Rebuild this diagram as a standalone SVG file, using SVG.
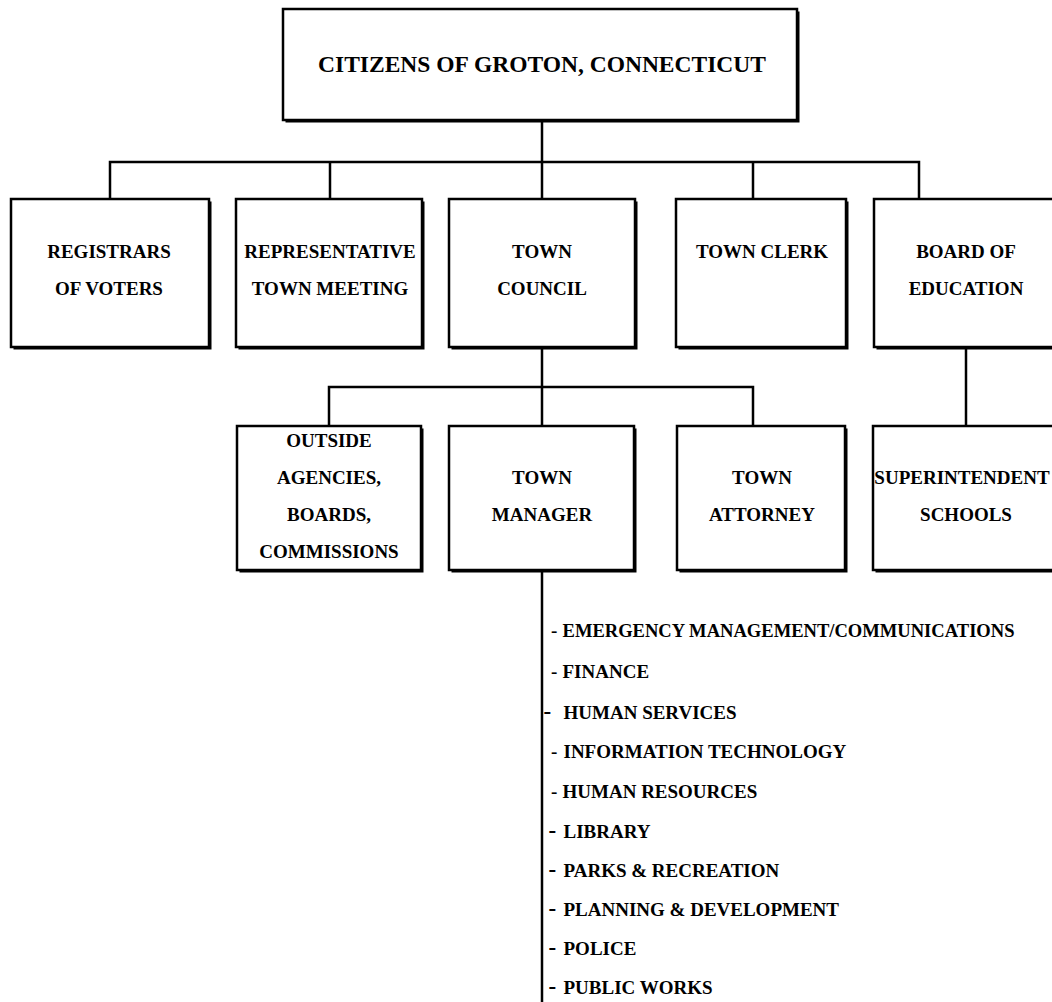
<svg xmlns="http://www.w3.org/2000/svg" width="1052" height="1002" viewBox="0 0 1052 1002">
<style>
.sh{fill:#000}
.box{fill:#fff;stroke:#000;stroke-width:2.5}
.ln{fill:none;stroke:#000;stroke-width:2.5}
text{font-family:"Liberation Serif","Times New Roman",serif;font-weight:bold;font-size:19px;fill:#000}
.c{text-anchor:middle}
.top{font-size:23.5px}
.d{font-size:23px}
</style>
<rect width="1052" height="1002" fill="#fff"/>
<g id="connectors">
<path class="ln" d="M542 120V162M110 199V162H919V199M330 162V199M542 162V199M753 162V199"/>
<path class="ln" d="M542 347V387M329 426V387H753V426M542 387V426"/>
<path class="ln" d="M966 347V426"/>
<path class="ln" d="M542 570V1002"/>
</g>
<g id="citizens">
<rect class="sh" x="285.5" y="11.5" width="514" height="111"/>
<rect class="box" x="283" y="9" width="514" height="111"/>
<text class="c top" x="542" y="72">CITIZENS OF GROTON, CONNECTICUT</text>
</g>
<g id="registrars">
<rect class="sh" x="13.5" y="201.5" width="198" height="148"/>
<rect class="box" x="11" y="199" width="198" height="148"/>
<text class="c" x="109" y="258">REGISTRARS</text>
<text class="c" x="109" y="295">OF VOTERS</text>
</g>
<g id="rtm">
<rect class="sh" x="238.5" y="201.5" width="186" height="148"/>
<rect class="box" x="236" y="199" width="186" height="148"/>
<text class="c" x="330" y="258">REPRESENTATIVE</text>
<text class="c" x="330" y="295">TOWN MEETING</text>
</g>
<g id="council">
<rect class="sh" x="451.5" y="201.5" width="186" height="148"/>
<rect class="box" x="449" y="199" width="186" height="148"/>
<text class="c" x="542" y="258">TOWN</text>
<text class="c" x="542" y="295">COUNCIL</text>
</g>
<g id="clerk">
<rect class="sh" x="678.5" y="201.5" width="170" height="148"/>
<rect class="box" x="676" y="199" width="170" height="148"/>
<text class="c" x="762" y="258">TOWN CLERK</text>
</g>
<g id="board">
<rect class="sh" x="876.5" y="201.5" width="186" height="148"/>
<rect class="box" x="874" y="199" width="186" height="148"/>
<text class="c" x="966" y="258">BOARD OF</text>
<text class="c" x="966" y="295">EDUCATION</text>
</g>
<g id="outside">
<rect class="sh" x="239.5" y="428.5" width="184" height="144"/>
<rect class="box" x="237" y="426" width="184" height="144"/>
<text class="c" x="329" y="447">OUTSIDE</text>
<text class="c" x="329" y="484">AGENCIES,</text>
<text class="c" x="329" y="521">BOARDS,</text>
<text class="c" x="329" y="558">COMMISSIONS</text>
</g>
<g id="manager">
<rect class="sh" x="451.5" y="428.5" width="185" height="144"/>
<rect class="box" x="449" y="426" width="185" height="144"/>
<text class="c" x="542" y="484">TOWN</text>
<text class="c" x="542" y="521">MANAGER</text>
</g>
<g id="attorney">
<rect class="sh" x="679.5" y="428.5" width="168" height="144"/>
<rect class="box" x="677" y="426" width="168" height="144"/>
<text class="c" x="762" y="484">TOWN</text>
<text class="c" x="762" y="521">ATTORNEY</text>
</g>
<g id="superintendent">
<rect class="sh" x="875.5" y="428.5" width="187" height="144"/>
<rect class="box" x="873" y="426" width="187" height="144"/>
<text class="c" x="962" y="484">SUPERINTENDENT</text>
<text class="c" x="966" y="521">SCHOOLS</text>
</g>
<g id="departments">
<text y="637"><tspan x="551">-</tspan><tspan x="562.5" textLength="452" lengthAdjust="spacingAndGlyphs">EMERGENCY MANAGEMENT/COMMUNICATIONS</tspan></text>
<text y="678"><tspan x="551">-</tspan><tspan x="562.5">FINANCE</tspan></text>
<text y="719"><tspan class="d" x="543.5">-</tspan><tspan x="563.5">HUMAN SERVICES</tspan></text>
<text y="758"><tspan x="551">-</tspan><tspan x="563.5">INFORMATION TECHNOLOGY</tspan></text>
<text y="798"><tspan x="551">-</tspan><tspan x="562.5">HUMAN RESOURCES</tspan></text>
<text y="838"><tspan class="d" x="548.5">-</tspan><tspan x="563.5">LIBRARY</tspan></text>
<text y="877"><tspan class="d" x="548.5">-</tspan><tspan x="563.5">PARKS &amp; RECREATION</tspan></text>
<text y="916"><tspan class="d" x="548.5">-</tspan><tspan x="563.5">PLANNING &amp; DEVELOPMENT</tspan></text>
<text y="955"><tspan class="d" x="548.5">-</tspan><tspan x="563.5">POLICE</tspan></text>
<text y="994"><tspan class="d" x="548.5">-</tspan><tspan x="563.5">PUBLIC WORKS</tspan></text>
</g>
</svg>
